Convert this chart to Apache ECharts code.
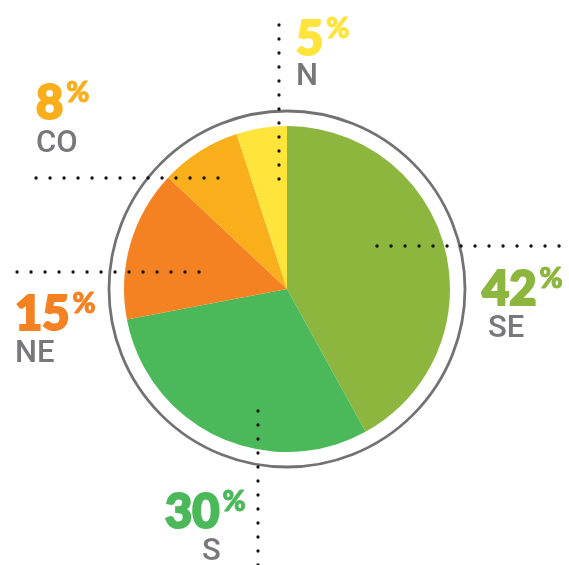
<!DOCTYPE html>
<html><head><meta charset="utf-8">
<script src="https://cdn.jsdelivr.net/npm/echarts@6/dist/echarts.min.js"></script>
<style>html,body{margin:0;padding:0;background:#fff}#c{width:569px;height:565px}</style>
</head><body><div id="c"></div>
<script>
// ---- data ----
const regions = ['SE', 'S', 'NE', 'CO', 'N'];
const shares = [42, 30, 15, 8, 5];
const colors = ['#8db63e', '#4bb95a', '#f48222', '#f9ae1b', '#fee43b'];

// ---- layout (not data) ----
const center = [287, 289];
const pieR = 163;
const ringR = 178;
const labelPos = [[482, 266], [165, 489], [15, 291], [36, 80], [296, 16]]; // top-left of percent digits
const namePos = [[488, 314], [202, 537], [15, 339], [36, 129], [296, 62]];
const leaders = [
  [[377, 246], [560, 246]],
  [[258, 411], [258, 565]],
  [[17, 272], [200, 272]],
  [[36, 178], [218, 178]],
  [[279, 25], [279, 180]]
];

const numFont = '900 47px Lato';
const pctFont = '900 28px Lato';
const nameFont = '500 31px Roboto';
const grey = '#78787b';

const mc = document.createElement('canvas').getContext('2d');
mc.font = numFont;

const graphics = [];
graphics.push({
  type: 'circle', z: 1,
  shape: { cx: center[0], cy: center[1], r: ringR },
  style: { fill: 'none', stroke: '#727275', lineWidth: 2.8 }
});
leaders.forEach(function (l) {
  graphics.push({
    type: 'line', z: 100,
    shape: { x1: l[0][0], y1: l[0][1], x2: l[1][0], y2: l[1][1] },
    style: { stroke: '#151515', lineWidth: 3.3, lineDash: [0.1, 13.9], lineCap: 'round' }
  });
});
regions.forEach(function (name, i) {
  const txt = String(shares[i]);
  const w = mc.measureText(txt).width;
  graphics.push({
    type: 'text', z: 100, x: labelPos[i][0], y: labelPos[i][1],
    style: { text: txt, font: numFont, fill: colors[i], stroke: colors[i], lineWidth: 2.2, verticalAlign: 'top', align: 'left' }
  });
  graphics.push({
    type: 'text', z: 100, x: labelPos[i][0] + w + 3, y: labelPos[i][1] - 1,
    style: { text: '%', font: pctFont, fill: colors[i], stroke: colors[i], lineWidth: 1, verticalAlign: 'top', align: 'left' }
  });
  graphics.push({
    type: 'text', z: 100, x: namePos[i][0], y: namePos[i][1],
    style: { text: name, font: nameFont, fill: grey, verticalAlign: 'top', align: 'left' }
  });
});

const chart = echarts.init(document.getElementById('c'), null, { renderer: 'canvas' });
chart.setOption({
  animation: false,
  backgroundColor: '#fff',
  series: [{
    type: 'pie',
    center: center,
    radius: [0, pieR],
    startAngle: 90,
    clockwise: true,
    label: { show: false },
    labelLine: { show: false },
    emphasis: { disabled: true },
    itemStyle: { borderWidth: 0 },
    data: regions.map(function (n, i) { return { name: n, value: shares[i], itemStyle: { color: colors[i] } }; })
  }],
  graphic: { elements: graphics }
});
</script>
</body></html>
